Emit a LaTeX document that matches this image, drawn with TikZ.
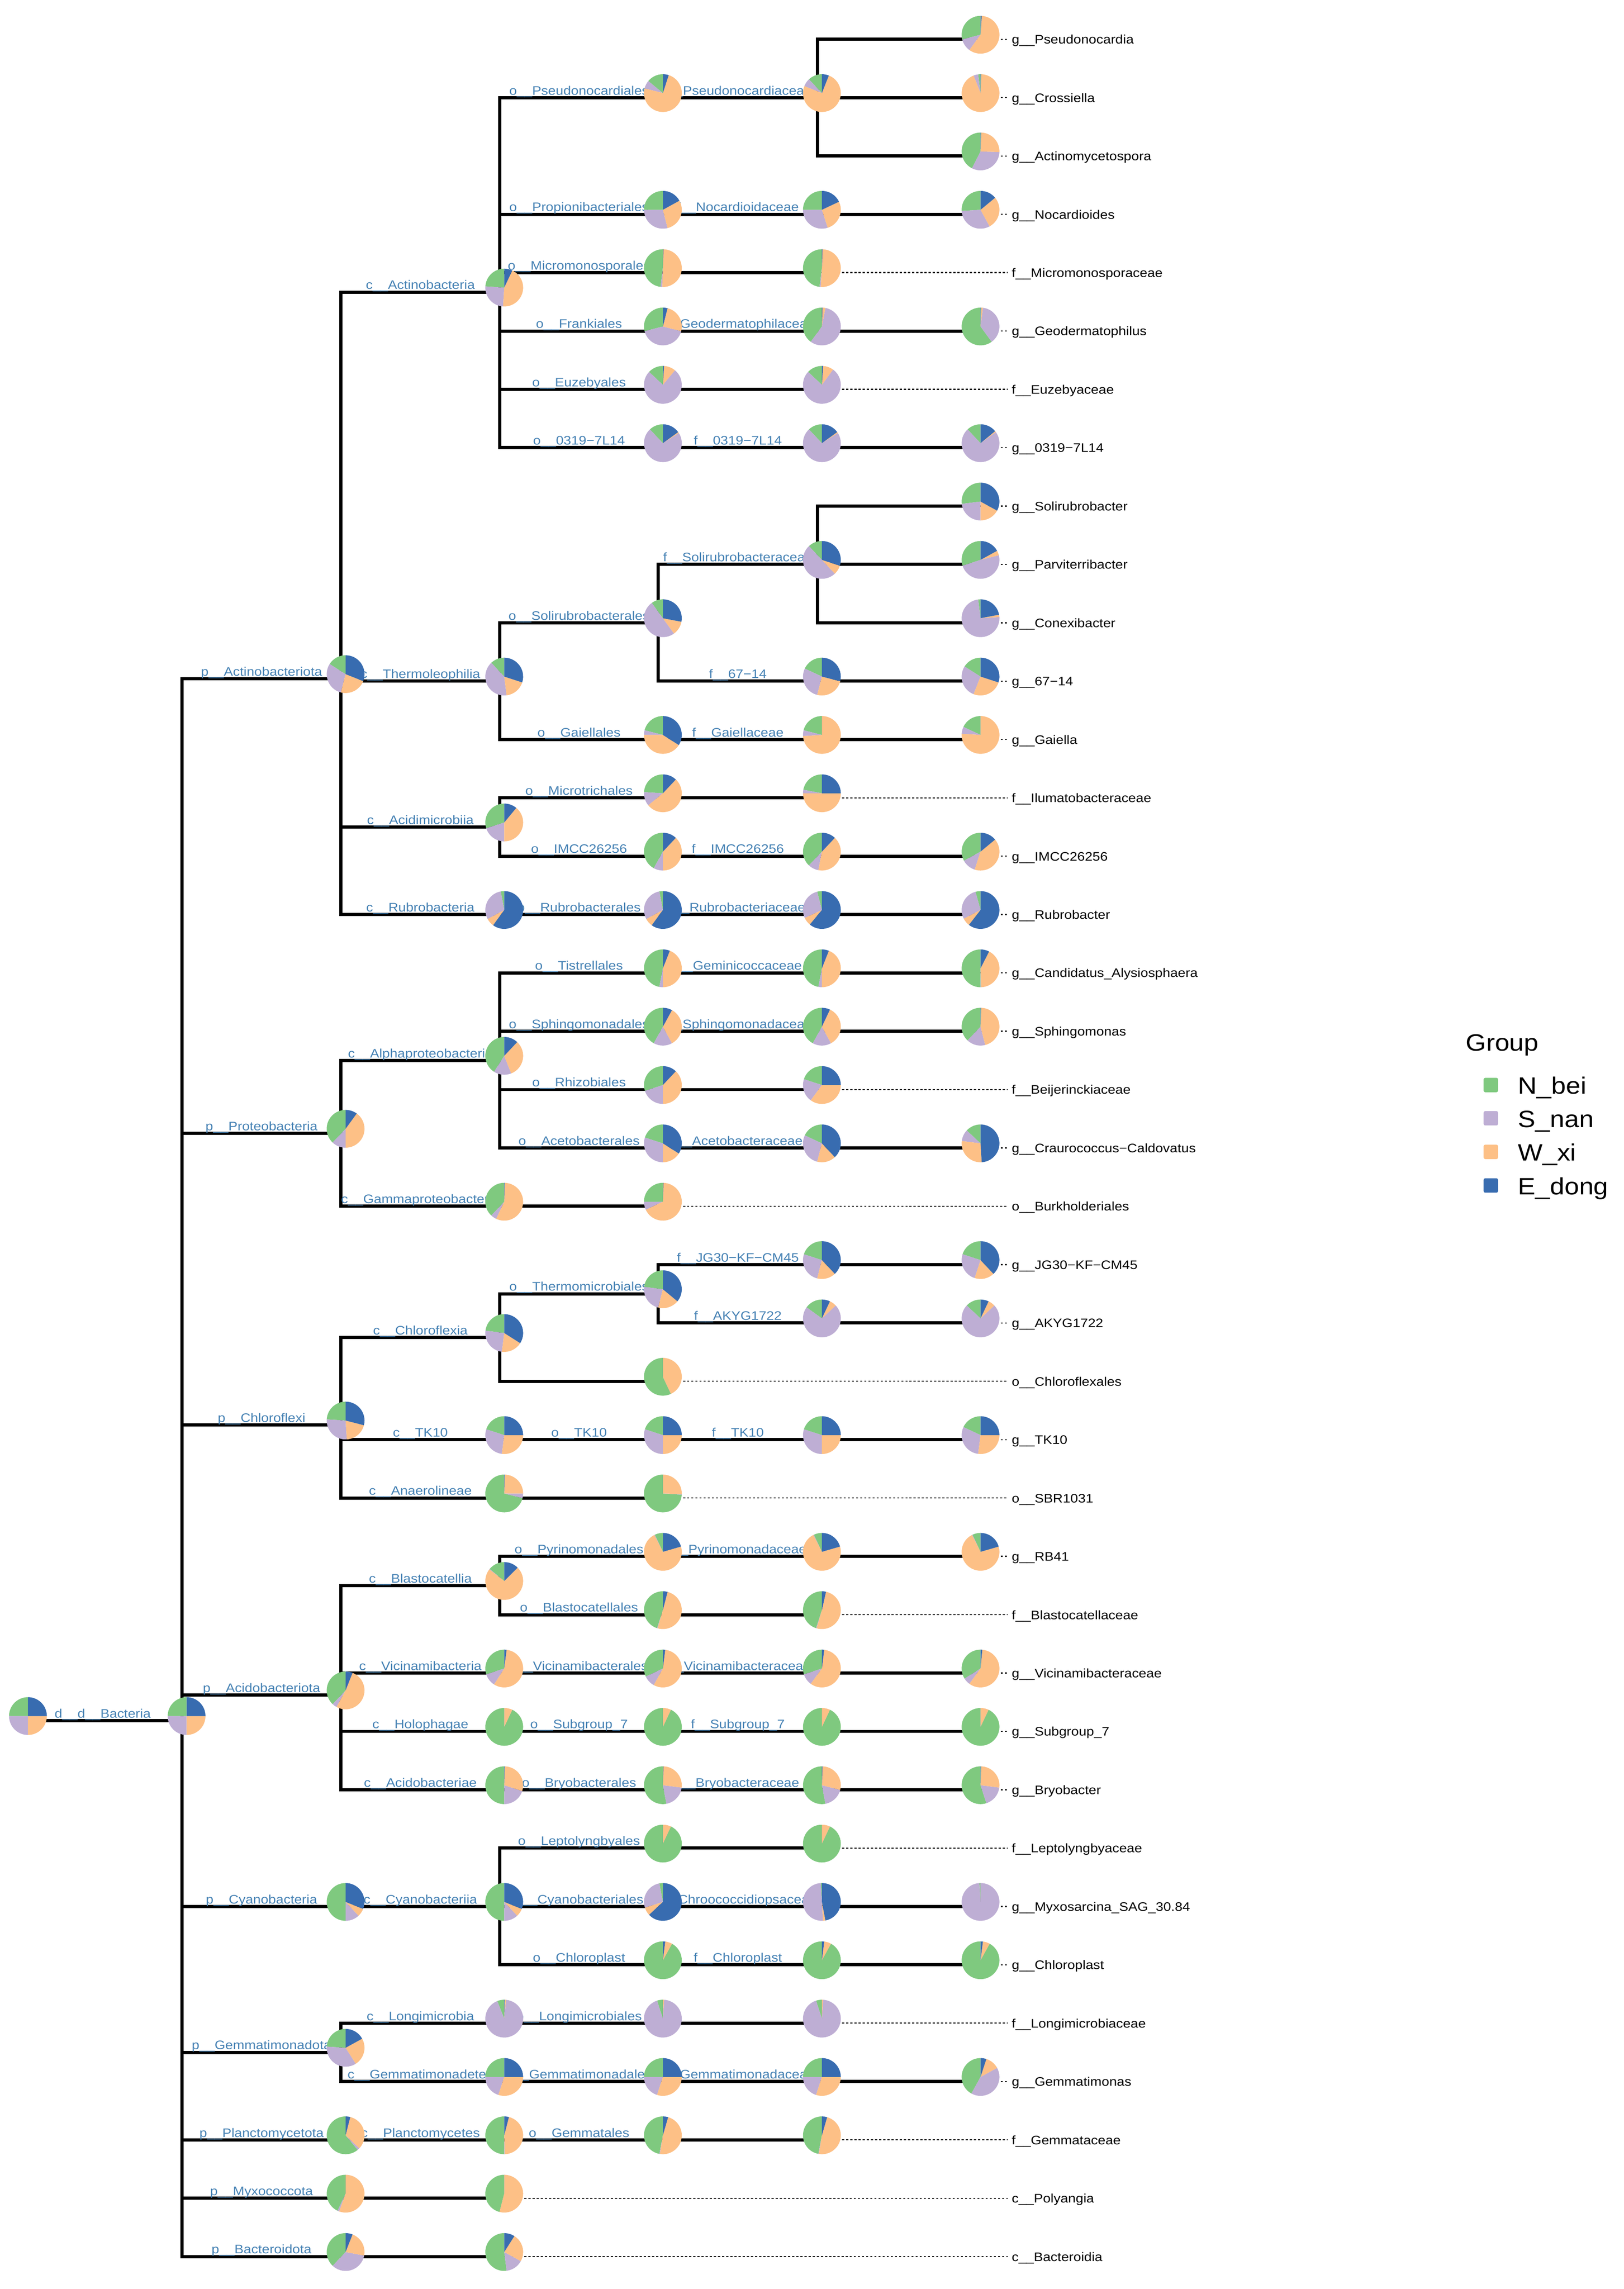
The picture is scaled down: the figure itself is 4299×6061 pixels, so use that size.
\documentclass[tikz,border=0pt]{standalone}
\usepackage{fontspec}
\setmainfont{Liberation Sans}[FakeStretch=1.11]
\usetikzlibrary{calc}
\definecolor{cN}{HTML}{7FC97F}
\definecolor{cS}{HTML}{BEAED4}
\definecolor{cW}{HTML}{FDC086}
\definecolor{cE}{HTML}{386CB0}
\definecolor{labblue}{HTML}{4682B4}
\newcommand{\lfont}{\fontsize{9.3}{10}\selectfont}
\newcommand{\gfont}{\fontsize{17.8}{19}\selectfont}
\newcommand{\pieR}{0.5cm}
\newcommand{\RY}[1]{104+154.5*(#1-1)}
\newcommand{\tn}[3]{\coordinate (#1) at (#2,{\RY{#3}});}
\newcommand{\edge}[3]{\draw[branch] (#1) |- node[blab,pos=0.75]{#3} (#2);}
\newcommand{\edgen}[2]{\draw[branch] (#1) |- (#2);}
\newcommand{\tip}[2]{\node[tiplab] (L#1) at (#1 -| tx) {#2};\draw[dotline] (#1) -- (#1 -| L#1.west);}
\newcommand{\tpie}[5]{%
  \pgfmathsetmacro\pieA{90+360*#2}%
  \pgfmathsetmacro\pieB{\pieA+360*#3}%
  \pgfmathsetmacro\pieC{\pieB+360*#4}%
  \begin{scope}[shift={($(#1)+(12,-12)$)}]
    \fill[cN] (0,0) -- (90:\pieR) arc[start angle=90,end angle=\pieA,radius=\pieR] -- cycle;
    \fill[cS] (0,0) -- (\pieA:\pieR) arc[start angle=\pieA,end angle=\pieB,radius=\pieR] -- cycle;
    \fill[cW] (0,0) -- (\pieB:\pieR) arc[start angle=\pieB,end angle=\pieC,radius=\pieR] -- cycle;
    \fill[cE] (0,0) -- (\pieC:\pieR) arc[start angle=\pieC,end angle=450,radius=\pieR] -- cycle;
  \end{scope}}
\tikzset{
  branch/.style={line width=2.4pt, line join=miter},
  blab/.style={text=labblue, font=\lfont, anchor=base, inner sep=0pt, yshift=0.075cm},
  tiplab/.style={font=\lfont, anchor=base west, inner xsep=0.1cm, inner ysep=0pt, yshift=-0.12cm},
  dotline/.style={line width=0.8pt, dash pattern=on 1.6pt off 1.5pt},
  legsq/.style={minimum size=0.38cm, inner sep=0pt, outer sep=0pt, rounded corners=0.04cm, draw=none},
  legtxt/.style={font=\gfont, anchor=base west, inner sep=0pt}
}
\begin{document}
\begin{tikzpicture}[x=0.01cm,y=-0.01cm]
\useasboundingbox (0,0) rectangle (4299,6061);
\fill[white] (0,0) rectangle (4299,6061);
\coordinate (tx) at (2668,0);
% ---------- tree nodes ----------
\tn{root}{62}{29.8148}
\tn{bact}{482}{29.8148}
\tn{pAct}{903}{11.9583}
\tn{pPro}{903}{19.75}
\tn{pChl}{903}{24.75}
\tn{pAci}{903}{29.375}
\tn{pCya}{903}{33}
\tn{pGem}{903}{35.5}
\tn{pPla}{903}{37}
\tn{pMyx}{903}{38}
\tn{pBac}{903}{39}
\tn{cAct}{1323}{5.3333}
\tn{cThe}{1323}{12}
\tn{cAcm}{1323}{14.5}
\tn{cRub}{1323}{16}
\tn{cAlp}{1323}{18.5}
\tn{cGam}{1323}{21}
\tn{cChl}{1323}{23.25}
\tn{cTK}{1323}{25}
\tn{cAna}{1323}{26}
\tn{cBla}{1323}{27.5}
\tn{cVic}{1323}{29}
\tn{cHol}{1323}{30}
\tn{cAcd}{1323}{31}
\tn{cCya}{1323}{33}
\tn{cLon}{1323}{35}
\tn{cGmt}{1323}{36}
\tn{cPla}{1323}{37}
\tn{cPol}{1323}{38}
\tn{cBcd}{1323}{39}
\tn{oPse}{1743}{2}
\tn{oPro}{1743}{4}
\tn{oMic}{1743}{5}
\tn{oFra}{1743}{6}
\tn{oEuz}{1743}{7}
\tn{o031}{1743}{8}
\tn{oSol}{1743}{11}
\tn{oGai}{1743}{13}
\tn{oMtr}{1743}{14}
\tn{oIMC}{1743}{15}
\tn{oRub}{1743}{16}
\tn{oTis}{1743}{17}
\tn{oSph}{1743}{18}
\tn{oRhi}{1743}{19}
\tn{oAce}{1743}{20}
\tn{oBur}{1743}{21}
\tn{oThm}{1743}{22.5}
\tn{oChf}{1743}{24}
\tn{oTK}{1743}{25}
\tn{oSBR}{1743}{26}
\tn{oPyr}{1743}{27}
\tn{oBla}{1743}{28}
\tn{oVic}{1743}{29}
\tn{oSub}{1743}{30}
\tn{oBry}{1743}{31}
\tn{oLep}{1743}{32}
\tn{oCya}{1743}{33}
\tn{oChp}{1743}{34}
\tn{oLon}{1743}{35}
\tn{oGmt}{1743}{36}
\tn{oGem}{1743}{37}
\tn{fPse}{2164}{2}
\tn{fNoc}{2164}{4}
\tn{fMic}{2164}{5}
\tn{fGeo}{2164}{6}
\tn{fEuz}{2164}{7}
\tn{f031}{2164}{8}
\tn{fSol}{2164}{10}
\tn{f67}{2164}{12}
\tn{fGai}{2164}{13}
\tn{fIlu}{2164}{14}
\tn{fIMC}{2164}{15}
\tn{fRub}{2164}{16}
\tn{fGmc}{2164}{17}
\tn{fSph}{2164}{18}
\tn{fBei}{2164}{19}
\tn{fAce}{2164}{20}
\tn{fJG}{2164}{22}
\tn{fAK}{2164}{23}
\tn{fTK}{2164}{25}
\tn{fPyr}{2164}{27}
\tn{fBla}{2164}{28}
\tn{fVic}{2164}{29}
\tn{fSub}{2164}{30}
\tn{fBry}{2164}{31}
\tn{fLep}{2164}{32}
\tn{fChr}{2164}{33}
\tn{fChp}{2164}{34}
\tn{fLon}{2164}{35}
\tn{fGmt}{2164}{36}
\tn{fGem}{2164}{37}
\tn{gPse}{2584}{1}
\tn{gCro}{2584}{2}
\tn{gAct}{2584}{3}
\tn{gNoc}{2584}{4}
\tn{gGeo}{2584}{6}
\tn{g031}{2584}{8}
\tn{gSol}{2584}{9}
\tn{gPar}{2584}{10}
\tn{gCon}{2584}{11}
\tn{g67}{2584}{12}
\tn{gGai}{2584}{13}
\tn{gIMC}{2584}{15}
\tn{gRub}{2584}{16}
\tn{gCan}{2584}{17}
\tn{gSph}{2584}{18}
\tn{gCra}{2584}{20}
\tn{gJG}{2584}{22}
\tn{gAK}{2584}{23}
\tn{gTK}{2584}{25}
\tn{gRB}{2584}{27}
\tn{gVic}{2584}{29}
\tn{gSub}{2584}{30}
\tn{gBry}{2584}{31}
\tn{gMyx}{2584}{33}
\tn{gChp}{2584}{34}
\tn{gGmt}{2584}{36}
% ---------- branches ----------
\edge{root}{bact}{d\_\_d\_\_Bacteria}
\edge{bact}{pAct}{p\_\_Actinobacteriota}
\edge{bact}{pPro}{p\_\_Proteobacteria}
\edge{bact}{pChl}{p\_\_Chloroflexi}
\edge{bact}{pAci}{p\_\_Acidobacteriota}
\edge{bact}{pCya}{p\_\_Cyanobacteria}
\edge{bact}{pGem}{p\_\_Gemmatimonadota}
\edge{bact}{pPla}{p\_\_Planctomycetota}
\edge{bact}{pMyx}{p\_\_Myxococcota}
\edge{bact}{pBac}{p\_\_Bacteroidota}
\edge{pAct}{cAct}{c\_\_Actinobacteria}
\edge{pAct}{cThe}{c\_\_Thermoleophilia}
\edge{pAct}{cAcm}{c\_\_Acidimicrobiia}
\edge{pAct}{cRub}{c\_\_Rubrobacteria}
\edge{pPro}{cAlp}{c\_\_Alphaproteobacteria}
\edge{pPro}{cGam}{c\_\_Gammaproteobacteria}
\edge{pChl}{cChl}{c\_\_Chloroflexia}
\edge{pChl}{cTK}{c\_\_TK10}
\edge{pChl}{cAna}{c\_\_Anaerolineae}
\edge{pAci}{cBla}{c\_\_Blastocatellia}
\edge{pAci}{cVic}{c\_\_Vicinamibacteria}
\edge{pAci}{cHol}{c\_\_Holophagae}
\edge{pAci}{cAcd}{c\_\_Acidobacteriae}
\edge{pCya}{cCya}{c\_\_Cyanobacteriia}
\edge{pGem}{cLon}{c\_\_Longimicrobia}
\edge{pGem}{cGmt}{c\_\_Gemmatimonadetes}
\edge{pPla}{cPla}{c\_\_Planctomycetes}
\edgen{pMyx}{cPol}
\edgen{pBac}{cBcd}
\edge{cAct}{oPse}{o\_\_Pseudonocardiales}
\edge{cAct}{oPro}{o\_\_Propionibacteriales}
\edge{cAct}{oMic}{o\_\_Micromonosporales}
\edge{cAct}{oFra}{o\_\_Frankiales}
\edge{cAct}{oEuz}{o\_\_Euzebyales}
\edge{cAct}{o031}{o\_\_0319−7L14}
\edge{cThe}{oSol}{o\_\_Solirubrobacterales}
\edge{cThe}{oGai}{o\_\_Gaiellales}
\edge{cAcm}{oMtr}{o\_\_Microtrichales}
\edge{cAcm}{oIMC}{o\_\_IMCC26256}
\edge{cRub}{oRub}{o\_\_Rubrobacterales}
\edge{cAlp}{oTis}{o\_\_Tistrellales}
\edge{cAlp}{oSph}{o\_\_Sphingomonadales}
\edge{cAlp}{oRhi}{o\_\_Rhizobiales}
\edge{cAlp}{oAce}{o\_\_Acetobacterales}
\edgen{cGam}{oBur}
\edge{cChl}{oThm}{o\_\_Thermomicrobiales}
\edgen{cChl}{oChf}
\edge{cTK}{oTK}{o\_\_TK10}
\edgen{cAna}{oSBR}
\edge{cBla}{oPyr}{o\_\_Pyrinomonadales}
\edge{cBla}{oBla}{o\_\_Blastocatellales}
\edge{cVic}{oVic}{o\_\_Vicinamibacterales}
\edge{cHol}{oSub}{o\_\_Subgroup\_7}
\edge{cAcd}{oBry}{o\_\_Bryobacterales}
\edge{cCya}{oLep}{o\_\_Leptolyngbyales}
\edge{cCya}{oCya}{o\_\_Cyanobacteriales}
\edge{cCya}{oChp}{o\_\_Chloroplast}
\edge{cLon}{oLon}{o\_\_Longimicrobiales}
\edge{cGmt}{oGmt}{o\_\_Gemmatimonadales}
\edge{cPla}{oGem}{o\_\_Gemmatales}
\edge{oPse}{fPse}{f\_\_Pseudonocardiaceae}
\edge{oPro}{fNoc}{f\_\_Nocardioidaceae}
\edgen{oMic}{fMic}
\edge{oFra}{fGeo}{f\_\_Geodermatophilaceae}
\edgen{oEuz}{fEuz}
\edge{o031}{f031}{f\_\_0319−7L14}
\edge{oSol}{fSol}{f\_\_Solirubrobacteraceae}
\edge{oSol}{f67}{f\_\_67−14}
\edge{oGai}{fGai}{f\_\_Gaiellaceae}
\edgen{oMtr}{fIlu}
\edge{oIMC}{fIMC}{f\_\_IMCC26256}
\edge{oRub}{fRub}{f\_\_Rubrobacteriaceae}
\edge{oTis}{fGmc}{f\_\_Geminicoccaceae}
\edge{oSph}{fSph}{f\_\_Sphingomonadaceae}
\edgen{oRhi}{fBei}
\edge{oAce}{fAce}{f\_\_Acetobacteraceae}
\edge{oThm}{fJG}{f\_\_JG30−KF−CM45}
\edge{oThm}{fAK}{f\_\_AKYG1722}
\edge{oTK}{fTK}{f\_\_TK10}
\edge{oPyr}{fPyr}{f\_\_Pyrinomonadaceae}
\edgen{oBla}{fBla}
\edge{oVic}{fVic}{f\_\_Vicinamibacteraceae}
\edge{oSub}{fSub}{f\_\_Subgroup\_7}
\edge{oBry}{fBry}{f\_\_Bryobacteraceae}
\edgen{oLep}{fLep}
\edge{oCya}{fChr}{f\_\_Chroococcidiopsaceae}
\edge{oChp}{fChp}{f\_\_Chloroplast}
\edgen{oLon}{fLon}
\edge{oGmt}{fGmt}{f\_\_Gemmatimonadaceae}
\edgen{oGem}{fGem}
\edgen{fPse}{gPse}
\edgen{fPse}{gCro}
\edgen{fPse}{gAct}
\edgen{fNoc}{gNoc}
\edgen{fGeo}{gGeo}
\edgen{f031}{g031}
\edgen{fSol}{gSol}
\edgen{fSol}{gPar}
\edgen{fSol}{gCon}
\edgen{f67}{g67}
\edgen{fGai}{gGai}
\edgen{fIMC}{gIMC}
\edgen{fRub}{gRub}
\edgen{fGmc}{gCan}
\edgen{fSph}{gSph}
\edgen{fAce}{gCra}
\edgen{fJG}{gJG}
\edgen{fAK}{gAK}
\edgen{fTK}{gTK}
\edgen{fPyr}{gRB}
\edgen{fVic}{gVic}
\edgen{fSub}{gSub}
\edgen{fBry}{gBry}
\edgen{fChr}{gMyx}
\edgen{fChp}{gChp}
\edgen{fGmt}{gGmt}
% ---------- tip labels ----------
\tip{gPse}{g\_\_Pseudonocardia}
\tip{gCro}{g\_\_Crossiella}
\tip{gAct}{g\_\_Actinomycetospora}
\tip{gNoc}{g\_\_Nocardioides}
\tip{fMic}{f\_\_Micromonosporaceae}
\tip{gGeo}{g\_\_Geodermatophilus}
\tip{fEuz}{f\_\_Euzebyaceae}
\tip{g031}{g\_\_0319−7L14}
\tip{gSol}{g\_\_Solirubrobacter}
\tip{gPar}{g\_\_Parviterribacter}
\tip{gCon}{g\_\_Conexibacter}
\tip{g67}{g\_\_67−14}
\tip{gGai}{g\_\_Gaiella}
\tip{fIlu}{f\_\_Ilumatobacteraceae}
\tip{gIMC}{g\_\_IMCC26256}
\tip{gRub}{g\_\_Rubrobacter}
\tip{gCan}{g\_\_Candidatus\_Alysiosphaera}
\tip{gSph}{g\_\_Sphingomonas}
\tip{fBei}{f\_\_Beijerinckiaceae}
\tip{gCra}{g\_\_Craurococcus−Caldovatus}
\tip{oBur}{o\_\_Burkholderiales}
\tip{gJG}{g\_\_JG30−KF−CM45}
\tip{gAK}{g\_\_AKYG1722}
\tip{oChf}{o\_\_Chloroflexales}
\tip{gTK}{g\_\_TK10}
\tip{oSBR}{o\_\_SBR1031}
\tip{gRB}{g\_\_RB41}
\tip{fBla}{f\_\_Blastocatellaceae}
\tip{gVic}{g\_\_Vicinamibacteraceae}
\tip{gSub}{g\_\_Subgroup\_7}
\tip{gBry}{g\_\_Bryobacter}
\tip{fLep}{f\_\_Leptolyngbyaceae}
\tip{gMyx}{g\_\_Myxosarcina\_SAG\_30.84}
\tip{gChp}{g\_\_Chloroplast}
\tip{fLon}{f\_\_Longimicrobiaceae}
\tip{gGmt}{g\_\_Gemmatimonas}
\tip{fGem}{f\_\_Gemmataceae}
\tip{cPol}{c\_\_Polyangia}
\tip{cBcd}{c\_\_Bacteroidia}
% ---------- pies (N, S, W, E) ----------
\tpie{root}{.25}{.25}{.25}{.25}
\tpie{bact}{.25}{.25}{.25}{.25}
\tpie{pAct}{.16}{.30}{.23}{.31}
\tpie{pPro}{.38}{.12}{.40}{.10}
\tpie{pChl}{.24}{.27}{.20}{.29}
\tpie{pAci}{.38}{.04}{.52}{.06}
\tpie{pCya}{.50}{.12}{.07}{.31}
\tpie{pGem}{.24}{.35}{.24}{.17}
\tpie{pPla}{.61}{.02}{.33}{.04}
\tpie{pMyx}{.43}{.015}{.555}{0}
\tpie{pBac}{.38}{.34}{.22}{.06}
\tpie{cAct}{.24}{.25}{.44}{.07}
\tpie{cThe}{.12}{.40}{.18}{.30}
\tpie{cAcm}{.30}{.20}{.39}{.11}
\tpie{cRub}{.03}{.30}{.07}{.60}
\tpie{cAlp}{.41}{.15}{.32}{.12}
\tpie{cGam}{.38}{.05}{.565}{.005}
\tpie{cChl}{.23}{.25}{.18}{.34}
\tpie{cTK}{.20}{.28}{.27}{.25}
\tpie{cAna}{.71}{.04}{.245}{.005}
\tpie{cBla}{.14}{.005}{.73}{.125}
\tpie{cVic}{.30}{.11}{.57}{.02}
\tpie{cHol}{.93}{0}{.07}{0}
\tpie{cAcd}{.50}{.20}{.295}{.005}
\tpie{cCya}{.50}{.12}{.07}{.31}
\tpie{cLon}{.06}{.925}{.01}{.005}
\tpie{cGmt}{.25}{.20}{.30}{.25}
\tpie{cPla}{.50}{.005}{.455}{.04}
\tpie{cPol}{.46}{0}{.54}{0}
\tpie{cBcd}{.52}{.15}{.24}{.09}
\tpie{oPse}{.14}{.07}{.74}{.05}
\tpie{oPro}{.25}{.29}{.29}{.17}
\tpie{oMic}{.48}{.015}{.50}{.005}
\tpie{oFra}{.29}{.42}{.25}{.04}
\tpie{oEuz}{.13}{.76}{.10}{.01}
\tpie{o031}{.12}{.72}{.01}{.15}
\tpie{oSol}{.10}{.50}{.12}{.28}
\tpie{oGai}{.21}{.04}{.41}{.34}
\tpie{oMtr}{.24}{.12}{.52}{.12}
\tpie{oIMC}{.42}{.08}{.38}{.12}
\tpie{oRub}{.03}{.30}{.07}{.60}
\tpie{oTis}{.47}{.03}{.44}{.06}
\tpie{oSph}{.42}{.16}{.34}{.08}
\tpie{oRhi}{.30}{.20}{.38}{.12}
\tpie{oAce}{.20}{.30}{.16}{.34}
\tpie{oBur}{.25}{.07}{.675}{.005}
\tpie{oThm}{.23}{.23}{.18}{.36}
\tpie{oChf}{.57}{0}{.43}{0}
\tpie{oTK}{.20}{.30}{.25}{.25}
\tpie{oSBR}{.74}{.005}{.255}{0}
\tpie{oPyr}{.07}{.005}{.72}{.205}
\tpie{oBla}{.45}{.005}{.505}{.04}
\tpie{oVic}{.32}{.10}{.56}{.02}
\tpie{oSub}{.93}{0}{.07}{0}
\tpie{oBry}{.53}{.20}{.265}{.005}
\tpie{oLep}{.93}{0}{.07}{0}
\tpie{oCya}{.03}{.27}{.07}{.63}
\tpie{oChp}{.92}{0}{.06}{.02}
\tpie{oLon}{.05}{.94}{.01}{.005}
\tpie{oGmt}{.25}{.20}{.30}{.25}
\tpie{oGem}{.47}{.005}{.48}{.045}
\tpie{fPse}{.12}{.07}{.75}{.06}
\tpie{fNoc}{.25}{.30}{.27}{.18}
\tpie{fMic}{.48}{.01}{.505}{.005}
\tpie{fGeo}{.40}{.57}{.025}{.005}
\tpie{fEuz}{.13}{.77}{.09}{.01}
\tpie{f031}{.12}{.72}{.01}{.15}
\tpie{fSol}{.12}{.50}{.08}{.30}
\tpie{f67}{.18}{.28}{.25}{.29}
\tpie{fGai}{.21}{.05}{.74}{0}
\tpie{fIlu}{.22}{.03}{.50}{.25}
\tpie{fIMC}{.38}{.09}{.41}{.12}
\tpie{fRub}{.04}{.28}{.07}{.61}
\tpie{fGmc}{.47}{.03}{.44}{.06}
\tpie{fSph}{.42}{.16}{.35}{.07}
\tpie{fBei}{.20}{.20}{.35}{.25}
\tpie{fAce}{.18}{.28}{.16}{.38}
\tpie{fJG}{.20}{.26}{.16}{.38}
\tpie{fAK}{.15}{.72}{.06}{.07}
\tpie{fTK}{.20}{.30}{.25}{.25}
\tpie{fPyr}{.07}{.005}{.72}{.205}
\tpie{fBla}{.45}{.005}{.51}{.035}
\tpie{fVic}{.30}{.10}{.58}{.02}
\tpie{fSub}{.93}{0}{.07}{0}
\tpie{fBry}{.53}{.18}{.285}{.005}
\tpie{fLep}{.93}{0}{.07}{0}
\tpie{fChr}{.01}{.50}{.02}{.47}
\tpie{fChp}{.92}{0}{.06}{.02}
\tpie{fLon}{.05}{.94}{.01}{.005}
\tpie{fGmt}{.25}{.20}{.30}{.25}
\tpie{fGem}{.47}{.005}{.48}{.045}
\tpie{gPse}{.29}{.11}{.59}{.01}
\tpie{gCro}{.02}{.04}{.935}{.005}
\tpie{gAct}{.425}{.32}{.25}{.005}
\tpie{gNoc}{.26}{.32}{.28}{.14}
\tpie{gGeo}{.60}{.38}{.015}{.005}
\tpie{g031}{.12}{.73}{.01}{.14}
\tpie{gSol}{.27}{.23}{.17}{.33}
\tpie{gPar}{.30}{.49}{.04}{.17}
\tpie{gCon}{.02}{.74}{.02}{.22}
\tpie{g67}{.16}{.28}{.26}{.30}
\tpie{gGai}{.18}{.06}{.76}{0}
\tpie{gIMC}{.33}{.12}{.41}{.14}
\tpie{gRub}{.043}{.284}{.068}{.605}
\tpie{gCan}{.50}{.005}{.42}{.075}
\tpie{gSph}{.38}{.16}{.455}{.005}
\tpie{gCra}{.13}{.10}{.28}{.49}
\tpie{gJG}{.20}{.25}{.17}{.38}
\tpie{gAK}{.13}{.74}{.06}{.07}
\tpie{gTK}{.18}{.30}{.27}{.25}
\tpie{gRB}{.07}{.005}{.72}{.205}
\tpie{gVic}{.34}{.06}{.585}{.015}
\tpie{gSub}{.93}{0}{.07}{0}
\tpie{gBry}{.55}{.18}{.265}{.005}
\tpie{gMyx}{.01}{.99}{0}{0}
\tpie{gChp}{.92}{0}{.06}{.02}
\tpie{gGmt}{.42}{.41}{.12}{.05}
% ---------- legend ----------
\node[legtxt] (gtitle) at (3880,2783) {Group};
\node[legsq,fill=cN] (kN) at (3947,2873) {};
\node[legsq,fill=cS] (kS) at (3947,2961) {};
\node[legsq,fill=cW] (kW) at (3947,3050) {};
\node[legsq,fill=cE] (kE) at (3947,3139) {};
\node[legtxt] (tN) at (4018,2897) {N\_bei};
\node[legtxt] (tS) at (4018,2985) {S\_nan};
\node[legtxt] (tW) at (4018,3074) {W\_xi};
\node[legtxt] (tE) at (4018,3163) {E\_dong};
\end{tikzpicture}
\end{document}
